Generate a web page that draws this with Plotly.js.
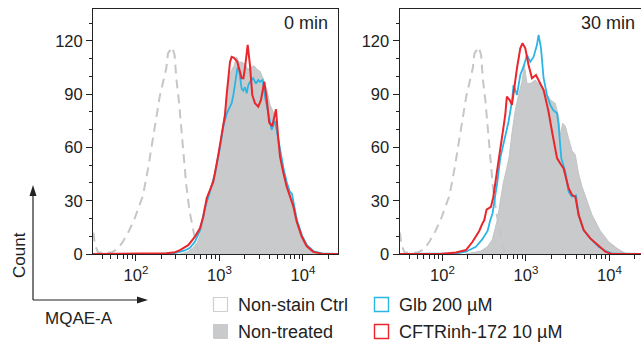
<!DOCTYPE html>
<html><head><meta charset="utf-8">
<script src="https://cdn.plot.ly/plotly-3.0.1.min.js"></script>
<style>html,body{margin:0;padding:0;overflow:hidden;background:#fff;width:641px;height:342px}</style>
</head><body><div id="chart"></div>
<script>
// Series names
const seriesNames = ['Non-stain Ctrl', 'Non-treated', 'Glb 200 µM', 'CFTRinh-172 10 µM'];
const panelLabels = ['0 min', '30 min'];
const yTickVals = [0, 30, 60, 90, 120];
const xTickVals = [100, 1000, 10000];
const xTickText = ['10<sup>2</sup>', '10<sup>3</sup>', '10<sup>4</sup>'];

// x values are log10(MQAE-A), y values are counts
// Non-stain control (same in both panels)
const ctrlX = [1.491,1.509,1.545,1.629,1.713,1.784,1.844,1.916,1.984,2.036,2.084,2.144,2.183,2.224,2.243,2.284,2.323,2.363,2.383,2.407,2.435,2.463,2.483,2.515,2.543,2.563,2.602,2.643,2.683,2.722,2.754,2.790];
const ctrlY = [12,5,1,0.5,1,3,7,13,20,27,33,48,58.6,69,76.6,88.6,97,104.6,113,115,116.5,112,99,85.8,70.8,57.6,38.9,23.8,14.5,5,0.5,0];

// 0 min
const ntX0 = [2.527,2.611,2.671,2.731,2.778,2.826,2.886,2.946,3.006,3.066,3.105,3.138,3.174,3.204,3.234,3.269,3.305,3.341,3.377,3.413,3.449,3.485,3.521,3.565,3.605,3.644,3.677,3.705,3.737,3.772,3.808,3.844,3.880,3.924,3.976,4.036,4.108,4.180,4.275,4.347];
const ntY0 = [0,1,3,6,12,24,36,46,62,80,96,103,106,111,108,108,107,104,105,106,104,103,99,93,84,80,72,62,55,47,40,35,28,20,11,5.5,2,0.7,0.2,0];
const glbX0 = [1.485,2.287,2.467,2.587,2.647,2.707,2.766,2.826,2.886,2.946,3.006,3.046,3.086,3.146,3.168,3.186,3.216,3.234,3.266,3.285,3.305,3.326,3.345,3.365,3.405,3.437,3.465,3.485,3.517,3.545,3.584,3.625,3.665,3.705,3.737,3.772,3.808,3.844,3.868,3.892,3.928,3.988,4.048,4.132,4.228,4.42];
const glbY0 = [0,0,0.5,2,3.5,7,13,26,35,45,60,71.7,79,85,90,96,105,104,93,92,94,90.5,95,97,99,96,98,97,98,88.6,79,69.9,75,64,56,47,40,35,34,27,19,10.5,5,1.5,0.3,0];
const cftrX0 = [1.485,2.168,2.368,2.467,2.527,2.626,2.707,2.766,2.806,2.847,2.878,2.926,2.986,3.026,3.066,3.086,3.105,3.126,3.146,3.174,3.213,3.240,3.266,3.287,3.305,3.338,3.365,3.393,3.425,3.465,3.497,3.537,3.565,3.596,3.629,3.644,3.677,3.701,3.725,3.764,3.805,3.844,3.884,3.924,3.984,4.044,4.123,4.224,4.42];
const cftrY0 = [0,0,0.4,1,2.2,5,9.8,14.5,21,31.4,35,40.7,55.8,67,78.3,89.6,100.8,108,111,110.5,108.3,104,99,99,104.6,117.8,106.5,89.6,84.9,83,86.8,97,87.7,74,72,74.5,81.5,67,55,46,38,32.5,27,18.5,10,4.5,1.2,0.2,0];

// 30 min
const ntX30 = [2.272,2.356,2.452,2.536,2.596,2.656,2.692,2.728,2.764,2.800,2.832,2.872,2.911,2.952,2.980,3.012,3.052,3.112,3.171,3.231,3.291,3.351,3.391,3.411,3.441,3.471,3.511,3.552,3.591,3.631,3.671,3.711,3.791,3.891,3.991,4.091,4.191,4.275];
const ntY30 = [0,0.5,1.5,4,8,19,30,40,47,55,68,81,89.6,97,106.5,96,96,98,95,91.4,86.8,84.9,77.4,67,73.6,72,65,58,55.8,45,38,33,22,13,6.9,3.2,0.4,0];
const glbX30 = [1.484,2.032,2.161,2.281,2.400,2.480,2.540,2.572,2.600,2.632,2.656,2.692,2.722,2.752,2.791,2.832,2.851,2.892,2.932,2.971,3.012,3.052,3.091,3.132,3.151,3.180,3.211,3.252,3.291,3.327,3.372,3.391,3.423,3.471,3.511,3.552,3.600,3.631,3.691,3.771,3.871,3.971,4.031,4.42];
const glbY30 = [0,0,0.3,1.3,4.1,8.5,13,19,23,33,40,54,60,66,74.5,85.8,95.2,89.6,100.8,105.5,112,108.3,111,117.8,123.4,116,99,89.6,84,81,79.3,72.7,53.9,46.4,35,32.3,33,22,13.5,8.8,4.1,1.3,0.4,0];
const cftrX30 = [1.484,1.972,2.161,2.281,2.360,2.412,2.440,2.476,2.500,2.528,2.580,2.608,2.632,2.662,2.700,2.728,2.752,2.771,2.803,2.832,2.860,2.892,2.932,2.959,2.992,3.031,3.072,3.120,3.171,3.211,3.252,3.271,3.312,3.351,3.372,3.411,3.451,3.511,3.552,3.591,3.631,3.691,3.771,3.871,3.951,4.011,4.42];
const cftrY30 = [0,0,0.8,2.2,6.9,11,13,17,19,25,26.5,32,40,51,63.3,70,78.3,88.6,86.8,84,95.2,104.6,115.9,118.7,115.9,106.5,99,100.8,96,92.4,84,80,69,60,54,51,48.2,37,33.2,32.3,22,13.5,8.8,4.7,1.3,0.2,0];

const W = 646, H = 342;
const px = v => v / W, py = v => (H - v) / H;
const lin = arr => arr.map(v => Math.pow(10, v));

const gray = '#c9cacc', blue = '#2bb5e6', red = '#e8262b', dash = '#c6c6c6', ink = '#222';
const font = 'Liberation Sans, Arial, Helvetica, sans-serif';

function panelTraces(nX, nY, gX, gY, cX, cY, xa, ya) {
  return [
    {x: lin(nX), y: nY, xaxis: xa, yaxis: ya, type: 'scatter', mode: 'lines', fill: 'tozeroy', fillcolor: gray, line: {color: '#c2c3c5', width: 1}, name: seriesNames[1], showlegend: false, hoverinfo: 'skip'},
    {x: lin(ctrlX), y: ctrlY, xaxis: xa, yaxis: ya, type: 'scatter', mode: 'lines', line: {color: dash, width: 2, dash: '9px,6px'}, name: seriesNames[0], showlegend: false, hoverinfo: 'skip'},
    {x: lin(gX), y: gY, xaxis: xa, yaxis: ya, type: 'scatter', mode: 'lines', line: {color: blue, width: 1.8}, name: seriesNames[2], showlegend: false, hoverinfo: 'skip'},
    {x: lin(cX), y: cY, xaxis: xa, yaxis: ya, type: 'scatter', mode: 'lines', line: {color: red, width: 2}, name: seriesNames[3], showlegend: false, hoverinfo: 'skip'}
  ];
}

const data = [
  ...panelTraces(ntX0, ntY0, glbX0, glbY0, cftrX0, cftrY0, 'x', 'y'),
  ...panelTraces(ntX30, ntY30, glbX30, glbY30, cftrX30, cftrY30, 'x2', 'y2')
];

const minorX = [];
[10, 100, 1000, 10000].forEach(d => { for (let k = 2; k <= 9; k++) minorX.push(k * d); });

function xAxis(domain) {
  return {
    domain: domain, type: 'log', range: [1.485, 4.42], tickvals: xTickVals, ticktext: xTickText,
    ticks: 'outside', ticklen: 6, tickwidth: 1, tickcolor: ink, showline: true, linecolor: ink, linewidth: 1,
    mirror: true, showgrid: false, zeroline: false, tickfont: {size: 16.5, family: font, color: ink},
    minor: {tickvals: minorX, ticks: 'outside', ticklen: 4, tickwidth: 1, tickcolor: ink, showgrid: false}
  };
}
function yAxis(anchor) {
  return {
    domain: [py(254), py(9)], anchor: anchor, range: [0, 138], tickvals: yTickVals,
    ticks: 'outside', ticklen: 6, tickwidth: 1, tickcolor: ink, showline: true, linecolor: ink, linewidth: 1,
    mirror: true, showgrid: false, zeroline: false, tickfont: {size: 16.5, family: font, color: ink},
    minor: {dtick: 10, ticks: 'outside', ticklen: 3, tickwidth: 1, tickcolor: ink, showgrid: false}
  };
}

const shapes = [
  // axis-label arrows
  {type: 'line', xref: 'paper', yref: 'paper', x0: px(33), y0: py(300), x1: px(33), y1: py(192), line: {color: ink, width: 1.2}},
  {type: 'path', xref: 'paper', yref: 'paper', path: `M ${px(33)} ${py(185)} L ${px(29.5)} ${py(196)} L ${px(36.5)} ${py(196)} Z`, fillcolor: ink, line: {width: 0}},
  {type: 'line', xref: 'paper', yref: 'paper', x0: px(33), y0: py(300), x1: px(141), y1: py(300), line: {color: ink, width: 1.2}},
  {type: 'path', xref: 'paper', yref: 'paper', path: `M ${px(148)} ${py(300)} L ${px(137)} ${py(296.5)} L ${px(137)} ${py(303.5)} Z`, fillcolor: ink, line: {width: 0}},
  // legend boxes
  {type: 'rect', xref: 'paper', yref: 'paper', x0: px(213.5), x1: px(227.5), y0: py(311.5), y1: py(297.5), line: {color: '#cfcfcf', width: 1.2}, fillcolor: 'rgba(0,0,0,0)'},
  {type: 'rect', xref: 'paper', yref: 'paper', x0: px(213.5), x1: px(227.5), y0: py(338.5), y1: py(324.5), line: {color: gray, width: 1}, fillcolor: gray},
  {type: 'rect', xref: 'paper', yref: 'paper', x0: px(374.5), x1: px(388.5), y0: py(311.5), y1: py(297.5), line: {color: blue, width: 1.4}, fillcolor: 'rgba(0,0,0,0)'},
  {type: 'rect', xref: 'paper', yref: 'paper', x0: px(374.5), x1: px(388.5), y0: py(338.5), y1: py(324.5), line: {color: red, width: 1.4}, fillcolor: 'rgba(0,0,0,0)'}
];

const tf = {family: font, size: 17, color: ink};
const lf = {family: font, size: 18, color: ink};
const annotations = [
  {xref: 'paper', yref: 'paper', x: px(19), y: py(255), text: 'Count', textangle: -90, showarrow: false, font: tf, xanchor: 'center', yanchor: 'middle'},
  {xref: 'paper', yref: 'paper', x: px(43), y: py(318), text: 'MQAE-A', showarrow: false, font: tf, xanchor: 'left', yanchor: 'middle'},
  {xref: 'paper', yref: 'paper', x: px(330), y: py(23), text: panelLabels[0], showarrow: false, font: lf, xanchor: 'right', yanchor: 'middle'},
  {xref: 'paper', yref: 'paper', x: px(637), y: py(23), text: panelLabels[1], showarrow: false, font: lf, xanchor: 'right', yanchor: 'middle'},
  {xref: 'paper', yref: 'paper', x: px(236), y: py(305), text: seriesNames[0], showarrow: false, font: lf, xanchor: 'left', yanchor: 'middle'},
  {xref: 'paper', yref: 'paper', x: px(236), y: py(331.5), text: seriesNames[1], showarrow: false, font: lf, xanchor: 'left', yanchor: 'middle'},
  {xref: 'paper', yref: 'paper', x: px(397), y: py(305), text: seriesNames[2], showarrow: false, font: lf, xanchor: 'left', yanchor: 'middle'},
  {xref: 'paper', yref: 'paper', x: px(397), y: py(331.5), text: seriesNames[3], showarrow: false, font: lf, xanchor: 'left', yanchor: 'middle'}
];

const layout = {
  width: W, height: H, margin: {l: 0, r: 0, t: 0, b: 0},
  paper_bgcolor: '#fff', plot_bgcolor: '#fff', showlegend: false,
  font: {family: font, color: ink},
  xaxis: Object.assign(xAxis([px(93), px(338)]), {anchor: 'y'}),
  yaxis: yAxis('x'),
  xaxis2: Object.assign(xAxis([px(399.5), px(644.5)]), {anchor: 'y2'}),
  yaxis2: yAxis('x2'),
  shapes: shapes, annotations: annotations
};

Plotly.newPlot('chart', data, layout, {staticPlot: true, displayModeBar: false});
</script></body></html>
